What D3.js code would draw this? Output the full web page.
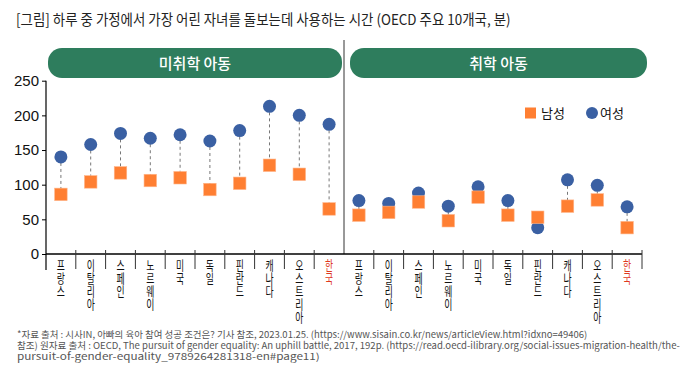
<!DOCTYPE html>
<html><head><meta charset="utf-8">
<script src="https://cdn.jsdelivr.net/npm/d3@7"></script>
<style>
html,body{margin:0;padding:0;background:#fff;}
svg{display:block;font-family:"Noto Sans CJK KR","Noto Sans",sans-serif;}
.vlab{writing-mode:vertical-rl;text-orientation:upright;}
</style></head>
<body><svg id="c" width="694" height="378"></svg>
<script>
const countries = ["프랑스","이탈리아","스페인","노르웨이","미국","독일","핀란드","캐나다","오스트리아","한국"];
const groups = ["미취학 아동","취학 아동"];
const preschoolMale   = [86,104,117,106,110,93,102,128,115,65];
const preschoolFemale = [140,158,174,167,172,163,178,213,200,187];
const schoolMale      = [56,60,75,48,82,56,53,69,78,38];
const schoolFemale    = [77,73,88,69,97,77,38,107,99,68];
const yTicks = [0,50,100,150,200,250];
const seriesNames = ["남성","여성"];
const title = "[그림] 하루 중 가정에서 가장 어린 자녀를 돌보는데 사용하는 시간 (OECD 주요 10개국, 분)";
const notes = [
 "*자료 출처 : 시사IN, 아빠의 육아 참여 성공 조건은? 기사 참조, 2023.01.25. (https://www.sisain.co.kr/news/articleView.html?idxno=49406)",
 "참조) 원자료 출처 : OECD, The pursuit of gender equality: An uphill battle, 2017, 192p. (https://read.oecd-ilibrary.org/social-issues-migration-health/the-",
 "pursuit-of-gender-equality_9789264281318-en#page11)"
];

const ORANGE = "#FF7F32", BLUE = "#3A60A3", GREEN = "#2E7D5D", RED = "#E0391E";
const svg = d3.select("#c");

const rows = [];
countries.forEach((c,i)=>rows.push({key:"a"+i, name:c, m:preschoolMale[i], f:preschoolFemale[i], kr:c==="한국"}));
countries.forEach((c,i)=>rows.push({key:"b"+i, name:c, m:schoolMale[i], f:schoolFemale[i], kr:c==="한국"}));

const x = d3.scaleBand().domain(rows.map(d=>d.key)).range([46, 642]).padding(0);
const y = d3.scaleLinear().domain([0,250]).range([254,80.7]);
const bw = x.bandwidth();

function fitText(parent, str, x0, y0, size, target, fill){
  const g = parent.append("g");
  const t = g.append("text").attr("x",0).attr("y",0).attr("font-size",size).attr("fill",fill).text(str);
  const w = t.node().getComputedTextLength();
  g.attr("transform",`translate(${x0},${y0}) scale(${target/w},1)`);
  return g;
}

// title
fitText(svg, title, 16, 25, 14.5, 495, "#222");

// banners
const bx = [[48,342],[350,647]];
groups.forEach((g,i)=>{
  svg.append("rect").attr("x",bx[i][0]).attr("y",48).attr("width",bx[i][1]-bx[i][0]).attr("height",30)
    .attr("rx",14).attr("ry",14).attr("fill",GREEN);
  svg.append("text").attr("x",(bx[i][0]+bx[i][1])/2).attr("y",68.5).attr("text-anchor","middle")
    .attr("font-size",15).attr("font-weight",500).attr("fill","#fff").text(g);
});

// divider
const divX = x("b0");
svg.append("line").attr("x1",divX).attr("x2",divX).attr("y1",40).attr("y2",254).attr("stroke","#333").attr("stroke-width",1);

// y axis
const yAxis = d3.axisLeft(y).tickValues(yTicks).tickSize(4).tickPadding(3);
const ya = svg.append("g").attr("transform","translate(46,0)").call(yAxis);
ya.select(".domain").remove();
ya.selectAll("line").attr("stroke","#000");
ya.selectAll("text").attr("font-family","'Liberation Sans',Arial,sans-serif").attr("font-size",15).attr("fill","#111");
svg.append("line").attr("x1",46).attr("x2",46).attr("y1",y(250)).attr("y2",270).attr("stroke","#000").attr("stroke-width",1.2);

// x axis line
svg.append("line").attr("x1",46).attr("x2",642).attr("y1",y(0)).attr("y2",y(0)).attr("stroke","#000").attr("stroke-width",1.4);
const bounds = rows.map(d=>x(d.key)).concat([642]).filter(v=>Math.abs(v-divX)>0.5 && v>47);
svg.selectAll(".sep").data(bounds).enter().append("line")
  .attr("x1",d=>d).attr("x2",d=>d).attr("y1",250).attr("y2",269).attr("stroke","#333").attr("stroke-width",1);

// labels (vertical, upright characters)
rows.forEach(d=>{
  const g = svg.append("g").attr("transform",`translate(${x(d.key)+bw/2},0) scale(0.68,1)`);
  g.append("text").attr("class","vlab").attr("font-size",13)
    .attr("fill", d.kr?RED:"#111").attr("x",0).attr("y",259).text(d.name);
});

// dashed connectors
svg.selectAll(".con").data(rows).enter().append("line")
  .attr("x1",d=>x(d.key)+bw/2).attr("x2",d=>x(d.key)+bw/2)
  .attr("y1",d=>y(d.f)).attr("y2",d=>y(d.m))
  .attr("stroke","#777").attr("stroke-width",1).attr("stroke-dasharray","3,3");

// female circles
svg.selectAll(".fc").data(rows).enter().append("circle")
  .attr("cx",d=>x(d.key)+bw/2).attr("cy",d=>y(d.f)).attr("r",6.5).attr("fill",BLUE);
// male squares
const s = 12.5;
svg.selectAll(".ms").data(rows).enter().append("rect")
  .attr("x",d=>x(d.key)+bw/2-s/2).attr("y",d=>y(d.m)-s/2).attr("width",s).attr("height",s)
  .attr("fill",ORANGE).attr("stroke","#FFB58A").attr("stroke-width",0.6);

// legend
svg.append("rect").attr("x",525).attr("y",107.5).attr("width",11).attr("height",11).attr("fill",ORANGE);
svg.append("text").attr("x",541).attr("y",118).attr("font-size",13).attr("fill","#111").text(seriesNames[0]);
svg.append("circle").attr("cx",592).attr("cy",113).attr("r",6).attr("fill",BLUE);
svg.append("text").attr("x",600).attr("y",118).attr("font-size",13).attr("fill","#111").text(seriesNames[1]);

// notes
const nl = [571, 664, 303];
notes.forEach((n,i)=>{
  fitText(svg, n, 17, 338+i*11, 9.5, nl[i], "#555");
});
</script></body></html>
